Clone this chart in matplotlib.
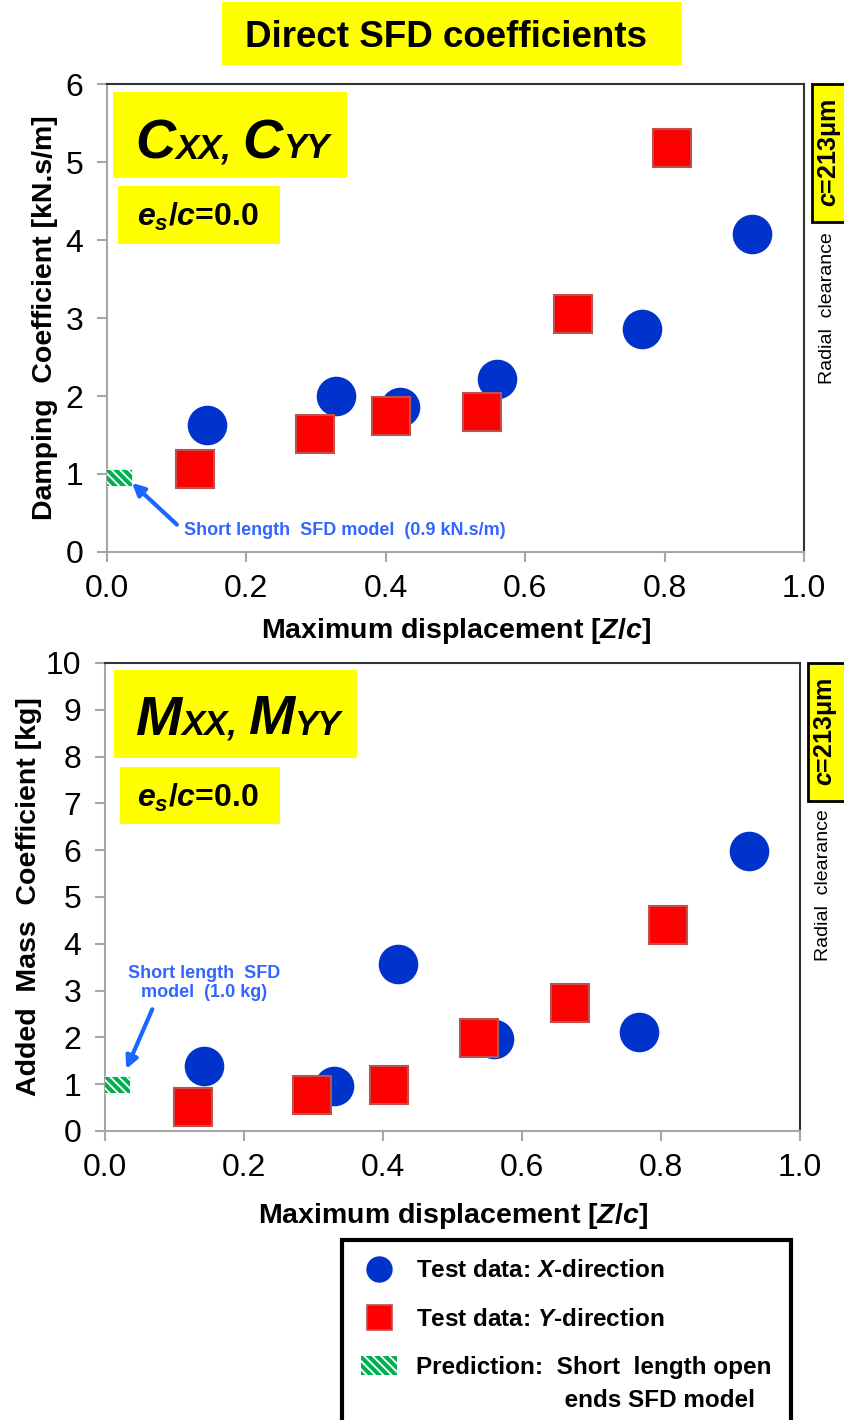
import matplotlib.pyplot as plt
from matplotlib.patches import Rectangle, Patch
from matplotlib.lines import Line2D
from matplotlib.legend_handler import HandlerPatch

plt.rcParams['font.family'] = ['Liberation Sans', 'DejaVu Sans']
plt.rcParams['mathtext.fontset'] = 'custom'
plt.rcParams['mathtext.rm'] = 'Liberation Sans:bold'
plt.rcParams['mathtext.it'] = 'Liberation Sans:italic:bold'
plt.rcParams['mathtext.bf'] = 'Liberation Sans:bold'
plt.rcParams['hatch.color'] = 'white'
plt.rcParams['hatch.linewidth'] = 1.3

# maximum displacement Z/c of each test
x_dir_disp = [0.143, 0.329, 0.421, 0.560, 0.768, 0.926]
y_dir_disp = [0.126, 0.298, 0.408, 0.538, 0.669, 0.810]

# damping coefficients [kN.s/m]
x_damping = [1.63, 2.00, 1.86, 2.22, 2.86, 4.08]
y_damping = [1.06, 1.51, 1.74, 1.80, 3.05, 5.18]

# added mass coefficients [kg]
x_mass = [1.38, 0.96, 3.57, 1.97, 2.12, 5.98]
y_mass = [0.51, 0.77, 0.98, 1.99, 2.74, 4.40]

# short length open ends SFD model
pred_disp = [0.017]
pred_damping = [0.95]
pred_mass = [1.0]

xticks = [0.0, 0.2, 0.4, 0.6, 0.8, 1.0]

BLUE = '#0033cc'
RED = '#ff0000'
GREEN = '#00b050'
YELLOW = '#ffff00'
NOTE = '#3366ff'
ARROW = '#1a66ff'
rect_marker = [(-1, -0.63), (1, -0.63), (1, 0.63), (-1, 0.63), (-1, -0.63)]


def style_axes(ax, ymax, ylabel, ylab_x, xlab_y):
    ax.set_xlim(0, 1)
    ax.set_ylim(0, ymax)
    ax.set_xticks(xticks)
    ax.set_xticklabels(['%.1f' % v for v in xticks])
    ax.set_yticks(range(0, ymax + 1))
    for s in ['left', 'bottom']:
        ax.spines[s].set_color('#a6a6a6')
        ax.spines[s].set_linewidth(1.5)
    for s in ['top', 'right']:
        ax.spines[s].set_color('#333333')
        ax.spines[s].set_linewidth(1.5)
    ax.tick_params(direction='out', length=7, width=1.5, color='#a6a6a6',
                   labelsize=23, labelcolor='black')
    ax.tick_params(axis='y', pad=10)
    ax.tick_params(axis='x', pad=9)
    ax.set_ylabel(ylabel, fontsize=20.5, fontweight='bold')
    ax.yaxis.set_label_coords(ylab_x, 0.5)
    ax.set_xlabel('Maximum displacement [$Z/c$]', fontsize=20.5, fontweight='bold')
    ax.xaxis.set_label_coords(0.5, xlab_y)


def rich_text(ax, x, y, parts):
    # parts: (text, fontsize, gap before in points)
    t = ax.text(x, y, parts[0][0], transform=ax.transAxes, fontsize=parts[0][1],
                fontweight='bold', fontstyle='italic', va='baseline', zorder=4)
    prev = parts[0][1]
    for s, fs, gap in parts[1:]:
        t = ax.annotate(s, xy=(1, 0), xycoords=t, xytext=(gap, 0.212 * prev),
                        textcoords='offset points', fontsize=fs, fontweight='bold',
                        fontstyle='italic', va='baseline', zorder=4)
        prev = fs


def side_notes(ax, ylab_cy):
    ax.add_patch(Rectangle((1.011, 0.705), 0.07, 0.295, transform=ax.transAxes,
                           facecolor=YELLOW, edgecolor='black', lw=2, clip_on=False))
    ax.text(1.037, 0.853, '$c$=213μm', transform=ax.transAxes, rotation=90,
            fontsize=18, fontweight='bold', ha='center', va='center')
    ax.text(1.034, ylab_cy, 'Radial  clearance', transform=ax.transAxes, rotation=90,
            fontsize=14, ha='center', va='center')


def sym_boxes(ax, box1, box2, letter, sym_x, sym_y, es_x, es_y):
    ax.add_patch(Rectangle(box1[:2], box1[2], box1[3], transform=ax.transAxes,
                           facecolor=YELLOW, edgecolor='none', zorder=1))
    ax.add_patch(Rectangle(box2[:2], box2[2], box2[3], transform=ax.transAxes,
                           facecolor=YELLOW, edgecolor='none', zorder=1))
    rich_text(ax, sym_x, sym_y, [(letter, 40, 0), ('XX,', 25, 0), (letter, 40, 8), ('YY', 25, 0)])
    ax.text(es_x, es_y, '$e_s/c$=0.0', transform=ax.transAxes, fontsize=23,
            fontweight='bold', va='baseline', zorder=4)


def data_points(ax, xv, yv, pv):
    ax.plot(x_dir_disp, xv, 'o', ms=27.5, color=BLUE, zorder=3)
    ax.plot(y_dir_disp, yv, 's', ms=28, mfc=RED, mec='#c0504d', mew=1.5, zorder=3)
    ax.scatter(pred_disp, pv, marker=rect_marker, s=380, facecolor=GREEN,
               edgecolor='white', linewidths=0.6, hatch='\\\\\\\\', zorder=3)


def raised_patch(legend, orig_handle, xdescent, ydescent, width, height, fontsize):
    # keep the hatched key level with the first line of its two-line label
    return Rectangle((-xdescent, -ydescent + 0.8 * fontsize), width, height)


fig = plt.figure(figsize=(8.45, 14.2), dpi=100)

fig.add_artist(Rectangle((222 / 845, 1 - 65 / 1420), 460 / 845, 63 / 1420,
                         transform=fig.transFigure, facecolor=YELLOW, edgecolor='none'))
fig.text(446 / 845, 1 - 47 / 1420, 'Direct SFD coefficients', fontsize=26.5,
         fontweight='bold', ha='center', va='baseline')

# damping panel
ax1 = fig.add_axes([107 / 845, 1 - 552 / 1420, 697 / 845, 468 / 1420])
data_points(ax1, x_damping, y_damping, pred_damping)
style_axes(ax1, 6, 'Damping  Coefficient [kN.s/m]', -0.07, -0.137)
sym_boxes(ax1, (0.008, 0.800, 0.337, 0.183), (0.0155, 0.659, 0.232, 0.124),
          'C', 0.041, 0.841, 0.043, 0.697)
side_notes(ax1, 0.521)
ax1.annotate('Short length  SFD model  (0.9 kN.s/m)', xy=(0.033, 0.91), xytext=(0.11, 0.27),
             fontsize=13, fontweight='bold', color=NOTE, ha='left', va='center',
             arrowprops=dict(arrowstyle='-|>', color=ARROW, lw=3, mutation_scale=18,
                             relpos=(0, 0.5), shrinkA=4, shrinkB=2))

# added mass panel
ax2 = fig.add_axes([105 / 845, 1 - 1131 / 1420, 695 / 845, 468 / 1420])
data_points(ax2, x_mass, y_mass, pred_mass)
style_axes(ax2, 10, 'Added  Mass  Coefficient [kg]', -0.09, -0.15)
sym_boxes(ax2, (0.013, 0.797, 0.349, 0.189), (0.021, 0.656, 0.231, 0.122),
          'M', 0.043, 0.847, 0.046, 0.693)
side_notes(ax2, 0.526)
ax2.annotate('Short length  SFD\nmodel  (1.0 kg)', xy=(0.029, 1.27), xytext=(0.143, 3.16),
             fontsize=13, fontweight='bold', color=NOTE, ha='center', va='center',
             multialignment='center',
             arrowprops=dict(arrowstyle='-|>', color=ARROW, lw=3, mutation_scale=18,
                             relpos=(0.18, 0), shrinkA=4, shrinkB=2))

# legend
handles = [
    Line2D([], [], ls='none', marker='o', ms=18, color=BLUE),
    Line2D([], [], ls='none', marker='s', ms=18, mfc=RED, mec='#c0504d', mew=1.2),
    Patch(facecolor=GREEN, hatch='\\\\\\\\'),
]
labels = [
    'Test data: $X$-direction',
    'Test data: $Y$-direction',
    'Prediction:  Short  length open\n' + ' ' * 22 + 'ends SFD model',
]
leg = fig.legend(handles, labels, loc='upper left', bbox_to_anchor=(342 / 845, 1 - 1240 / 1420),
                 borderaxespad=0, frameon=True, fancybox=False, framealpha=1,
                 edgecolor='black', prop={'size': 17.5, 'weight': 'bold'},
                 handlelength=1.45, handleheight=0.8, handletextpad=0.8,
                 borderpad=0.8, labelspacing=1.05,
                 handler_map={Patch: HandlerPatch(patch_func=raised_patch)})
leg.get_frame().set_linewidth(3)
for t in leg.get_texts():
    t.set_linespacing(1.55)

fig.savefig('out.png', dpi=100)
